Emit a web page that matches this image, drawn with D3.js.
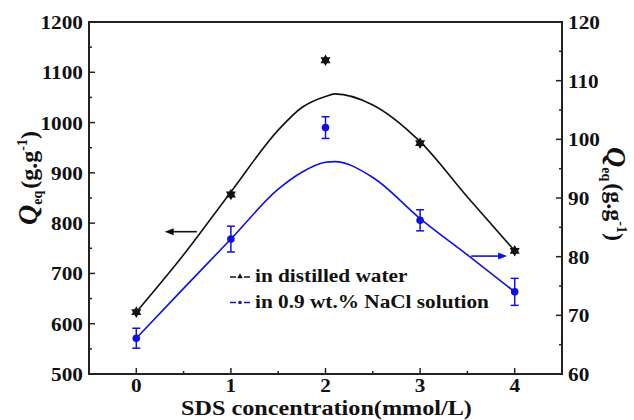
<!DOCTYPE html>
<html>
<head>
<meta charset="utf-8">
<script src="https://cdn.jsdelivr.net/npm/d3@7"></script>
<style>
  body { margin: 0; background: #fff; }
  svg { display: block; }
</style>
</head>
<body>
<div id="chart"></div>
<script>
// measured points
const concentration = [0, 1, 2, 3, 4];
const waterQ = [623, 857, 1124, 959, 745];
const salineQ = [66.1, 83.0, 102.0, 86.2, 74.0];
const salineErr = [1.7, 2.2, 1.85, 1.8, 2.3];

// fitted curves
const fitX = [0, 0.5, 1, 1.5, 1.75, 2, 2.1, 2.5, 3, 3.5, 4];
const waterFit = [623, 737, 862, 985, 1030, 1052, 1057, 1035, 962, 852, 745];
const salineFit = [66.1, 74.6, 83.0, 91.5, 94.4, 96.1, 96.2, 93.5, 86.5, 80.3, 74.0];

// axes ticks
const xTicks = [0, 1, 2, 3, 4];
const xMinor = [-0.5, 0.5, 1.5, 2.5, 3.5, 4.5];
const leftTicks = [500, 600, 700, 800, 900, 1000, 1100, 1200];
const leftMinor = [550, 650, 750, 850, 950, 1050, 1150];
const rightTicks = [60, 70, 80, 90, 100, 110, 120];
const rightMinor = [65, 75, 85, 95, 105, 115];

const legendLabels = ["in distilled water", "in 0.9 wt.% NaCl solution"];
const colors = ["#111111", "#1010e0"];

const width = 634, height = 420;
const margin = { top: 22, right: 72, bottom: 46, left: 89 };
const x0 = margin.left, x1 = width - margin.right;
const y0 = height - margin.bottom, y1 = margin.top;
const serif = "Liberation Serif";

const svg = d3.select("#chart").append("svg")
    .attr("width", width)
    .attr("height", height);

const x = d3.scaleLinear().domain([-0.5, 4.5]).range([x0, x1]);
const yL = d3.scaleLinear().domain([500, 1200]).range([y0, y1]);
const yR = d3.scaleLinear().domain([60, 120]).range([y0, y1]);

const stretch = 1.12;

// ticks (inside)
const tickG = svg.append("g").attr("stroke", "#222").attr("stroke-width", 1.5);
function ticks(vals, len, orient) {
    vals.forEach(v => {
        if (orient === "bottom") tickG.append("line").attr("x1", x(v)).attr("x2", x(v)).attr("y1", y0).attr("y2", y0 - len);
        if (orient === "left") tickG.append("line").attr("x1", x0).attr("x2", x0 + len).attr("y1", yL(v)).attr("y2", yL(v));
        if (orient === "right") tickG.append("line").attr("x1", x1).attr("x2", x1 - len).attr("y1", yR(v)).attr("y2", yR(v));
    });
}
ticks(xTicks, 6, "bottom");
ticks(xMinor, 3, "bottom");
ticks(leftTicks, 6, "left");
ticks(leftMinor, 3, "left");
ticks(rightTicks, 6, "right");
ticks(rightMinor, 3, "right");

svg.append("rect")
    .attr("x", x0).attr("y", y1)
    .attr("width", x1 - x0).attr("height", y0 - y1)
    .attr("fill", "none")
    .attr("stroke", "#222")
    .attr("stroke-width", 2);

// tick labels
function label(txt, px, py, anchor, size, sx) {
    return svg.append("text")
        .attr("transform", `translate(${px},${py}) scale(${sx},1)`)
        .attr("text-anchor", anchor)
        .attr("font-family", serif)
        .attr("font-weight", "bold")
        .attr("font-size", size)
        .attr("fill", "#111")
        .text(txt);
}
xTicks.forEach(v => label(v, x(v), 391.5, "middle", 18, 1.18));
leftTicks.forEach(v => label(v, x0 - 6, yL(v) + 7, "end", 19, stretch));
rightTicks.forEach(v => label(v, x1 + 6, yR(v) + 7, "start", 19, stretch));

svg.append("text")
    .attr("transform", `translate(${(x0 + x1) / 2 + 1},415) scale(1.1,1)`)
    .attr("text-anchor", "middle")
    .attr("font-family", serif)
    .attr("font-weight", "bold")
    .attr("font-size", 22)
    .attr("fill", "#111")
    .text("SDS concentration(mmol/L)");

// y titles
function yTitle(px, py, rot) {
    let t = svg.append("text")
        .attr("transform", `translate(${px},${py}) rotate(${rot})`)
        .attr("text-anchor", "middle")
        .attr("font-family", serif)
        .attr("font-weight", "bold")
        .attr("font-size", 24)
        .attr("fill", "#111");
    t.append("tspan").attr("font-style", "italic").attr("font-size", 28).text("Q");
    t.append("tspan").attr("font-size", 14).attr("dy", 5).text("eq");
    t.append("tspan").attr("dy", -5).attr("dx", 2).text("(g.g");
    t.append("tspan").attr("font-size", 14).attr("dy", -10).text("-1");
    t.append("tspan").attr("dy", 10).text(")");
}
yTitle(37, 178, -90);
yTitle(607, 194, 90);

// fitted curves
const plot = svg.append("g");
const lineW = d3.line().x((d, i) => x(fitX[i])).y(d => yL(d)).curve(d3.curveMonotoneX);
const lineS = d3.line().x((d, i) => x(fitX[i])).y(d => yR(d)).curve(d3.curveMonotoneX);

plot.append("path").attr("d", lineW(waterFit))
    .attr("fill", "none").attr("stroke", colors[0]).attr("stroke-width", 1.6);
plot.append("path").attr("d", lineS(salineFit))
    .attr("fill", "none").attr("stroke", colors[1]).attr("stroke-width", 1.6);

// saline error bars and points
concentration.forEach((c, i) => {
    let cx = x(c), top = yR(salineQ[i] + salineErr[i]), bot = yR(salineQ[i] - salineErr[i]);
    let g = plot.append("g").attr("stroke", colors[1]).attr("stroke-width", 1.5);
    g.append("line").attr("x1", cx).attr("x2", cx).attr("y1", top).attr("y2", bot);
    g.append("line").attr("x1", cx - 4).attr("x2", cx + 4).attr("y1", top).attr("y2", top);
    g.append("line").attr("x1", cx - 4).attr("x2", cx + 4).attr("y1", bot).attr("y2", bot);
    plot.append("circle").attr("cx", cx).attr("cy", yR(salineQ[i])).attr("r", 3.8).attr("fill", colors[1]);
});

// water points as six point stars
const tri = d3.symbol().type(d3.symbolTriangle).size(44);
concentration.forEach((c, i) => {
    let g = plot.append("g").attr("transform", `translate(${x(c)},${yL(waterQ[i])})`).attr("fill", colors[0]);
    g.append("path").attr("d", tri());
    g.append("path").attr("d", tri()).attr("transform", "rotate(180)");
});

// arrows
function arrow(xa, xb, yv, color) {
    let g = plot.append("g");
    let dir = Math.sign(xb - xa);
    g.append("line").attr("x1", xa).attr("x2", xb - dir * 6).attr("y1", yv).attr("y2", yv)
        .attr("stroke", color).attr("stroke-width", 1.6);
    g.append("path")
        .attr("d", `M${xb},${yv} L${xb - dir * 9},${yv - 3.5} L${xb - dir * 9},${yv + 3.5} Z`)
        .attr("fill", color);
}
arrow(x(0.64), x(0.3), yL(783), colors[0]);
arrow(x(3.54), x(3.92), yR(80.1), colors[1]);

// legend
const legend = svg.append("g").attr("transform", "translate(230,277)");
legendLabels.forEach((lab, i) => {
    let g = legend.append("g").attr("transform", `translate(0,${i * 25.5})`);
    g.append("line").attr("x1", 0).attr("x2", 6).attr("y1", 0).attr("y2", 0).attr("stroke", colors[i]).attr("stroke-width", 1.5);
    g.append("line").attr("x1", 14).attr("x2", 20).attr("y1", 0).attr("y2", 0).attr("stroke", colors[i]).attr("stroke-width", 1.5);
    if (i === 0) g.append("path").attr("d", d3.symbol().type(d3.symbolTriangle).size(14)()).attr("transform", "translate(10,-0.5)").attr("fill", colors[i]);
    else g.append("circle").attr("cx", 10).attr("cy", 0).attr("r", 1.8).attr("fill", colors[i]);
    g.append("text")
        .attr("transform", `translate(25,5) scale(${stretch},1)`)
        .attr("font-family", serif)
        .attr("font-weight", "bold")
        .attr("font-size", 19)
        .attr("fill", "#111")
        .text(lab);
});
</script>
</body>
</html>
